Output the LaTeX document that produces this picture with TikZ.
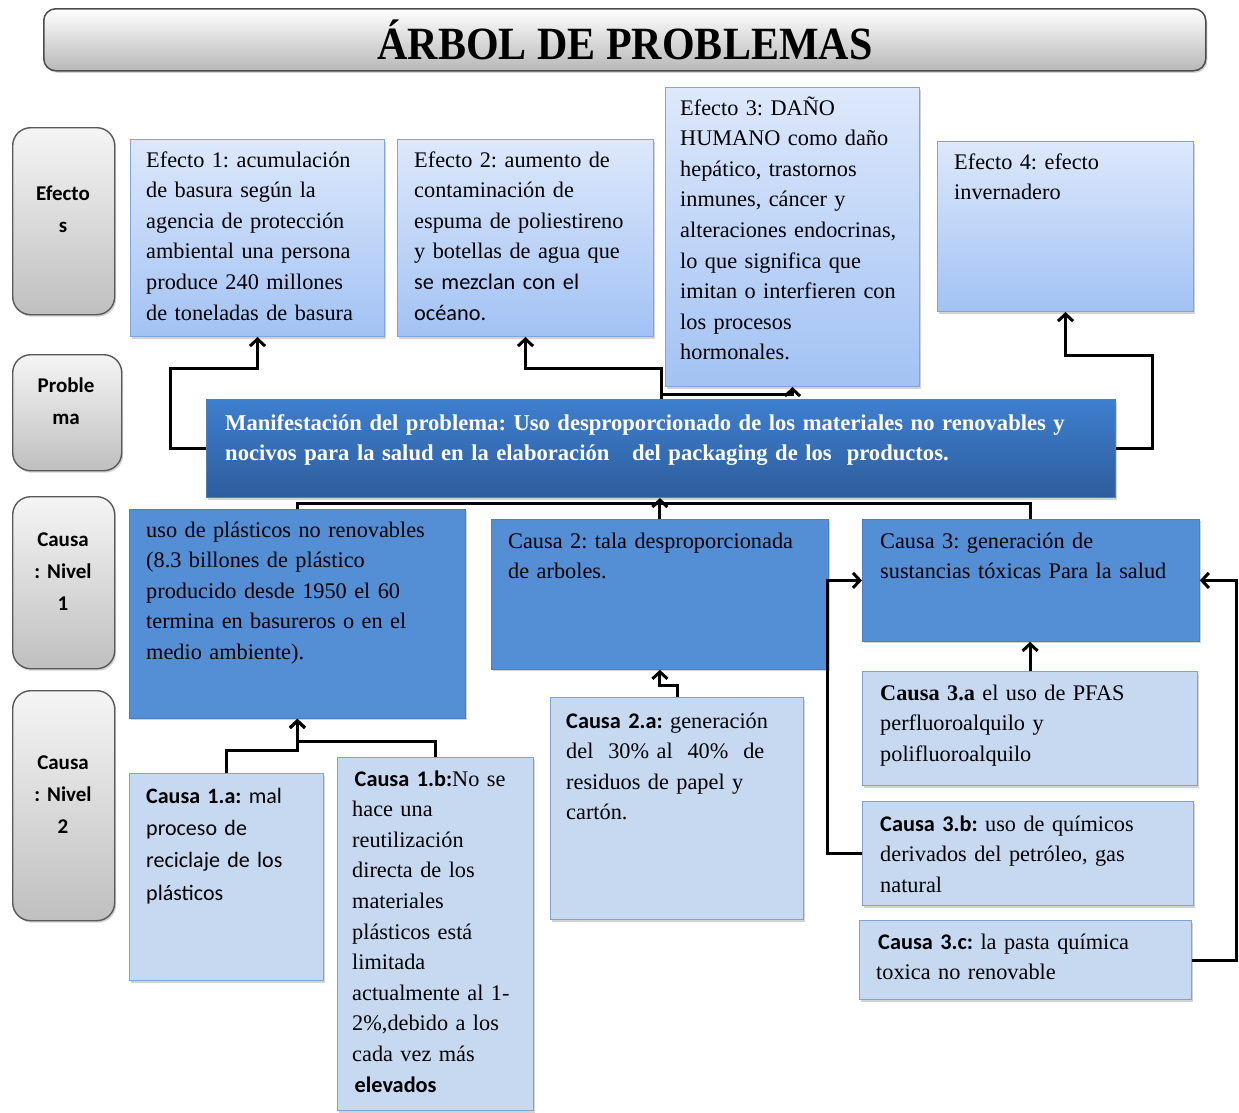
\documentclass[tikz,border=0pt]{standalone}
\usepackage{fontspec}
\setmainfont{Liberation Serif}
\newfontfamily\crl{Carlito}
\usetikzlibrary{arrows.meta,shadows}

\definecolor{effTop}{HTML}{DDE8FB}
\definecolor{effBot}{HTML}{A2C2F4}
\definecolor{effLine}{HTML}{7FA6DA}
\definecolor{probTop}{HTML}{3E7FCF}
\definecolor{probBot}{HTML}{2E5D9C}
\definecolor{causeFill}{HTML}{548ED5}
\definecolor{causeLine}{HTML}{4A7FC0}
\definecolor{subFill}{HTML}{C6D9F1}
\definecolor{subLine}{HTML}{7FA3D3}

\begin{document}
\frenchspacing
\begin{tikzpicture}[x=1pt,y=-1pt,
  shade/.style={drop shadow={shadow xshift=1.5pt,shadow yshift=-2pt,opacity=0.35}},
  titlebox/.style={draw=black!70,line width=1.5pt,rounded corners=12pt,
    top color=white,bottom color=black!28,shade,anchor=north west,inner sep=0pt},
  sidebox/.style={draw=black!65,line width=1.4pt,rounded corners=18pt,
    top color=black!4,bottom color=black!25,shade,anchor=north west,inner sep=0pt},
  effbox/.style={draw=effLine,line width=1pt,top color=effTop,bottom color=effBot,
    shade,anchor=north west,inner sep=0pt},
  probbox/.style={draw=probBot!80!white,line width=1pt,top color=probTop,bottom color=probBot,
    shade,anchor=north west,inner sep=0pt},
  causebox/.style={draw=causeLine,line width=0.8pt,fill=causeFill,
    shade,anchor=north west,inner sep=0pt},
  subbox/.style={draw=subLine,line width=1.2pt,fill=subFill,
    shade,anchor=north west,inner sep=0pt},
  txt/.style={anchor=base west,inner sep=0pt,align=left,text width=#1,
    font=\fontsize{22.3}{30.6}\selectfont},
  txt/.default=330pt,
  sidetxt/.style={anchor=base,inner sep=0pt,align=center,text width=100pt,
    font=\crl\bfseries\fontsize{21}{32}\selectfont},
  wire/.style={line width=3pt,line join=miter},
  conn/.style={wire,-{Straight Barb[length=7pt,width=15pt]}}
]
\useasboundingbox (0,0) rectangle (1239,1112);

% title bar
\node[titlebox,minimum width=1162pt,minimum height=62pt] (title) at (43,8) {};
\node[anchor=base,inner sep=0pt,font=\bfseries\fontsize{42}{42}\selectfont]
  (titlet) at (625,59) {\scalebox{1}[1.1]{ÁRBOL DE PROBLEMAS}};

% row labels
\node[sidebox,minimum width=102pt,minimum height=187pt] (sEf) at (12,127) {};
\node[sidetxt] (sEft) at (63,200) {Efecto\\s};
\node[sidebox,minimum width=109pt,minimum height=116pt] (sPr) at (12,354) {};
\node[sidetxt] (sPrt) at (66,392) {Proble\\ma};
\node[sidebox,minimum width=102pt,minimum height=172pt] (sC1) at (12,496) {};
\node[sidetxt] (sC1t) at (63,546) {Causa\\: Nivel\\1};
\node[sidebox,minimum width=102pt,minimum height=230pt] (sC2) at (12,690) {};
\node[sidetxt] (sC2t) at (63,769) {Causa\\: Nivel\\2};

% effects
\node[effbox,minimum width=254pt,minimum height=197pt] (e1) at (130,139) {};
\node[txt] (e1t) at (146,167) {Efecto 1: acumulación\\de basura según la\\agencia de protección\\ambiental una persona\\produce 240 millones\\de toneladas de basura};
\node[effbox,minimum width=256pt,minimum height=197pt] (e2) at (397,139) {};
\node[txt] (e2t) at (414,167) {Efecto 2: aumento de\\contaminación de\\espuma de poliestireno\\y botellas de agua que\\{\crl se mezclan con el}\\{\crl océano.}};
\node[effbox,minimum width=254pt,minimum height=299pt] (e3) at (665,87) {};
\node[txt] (e3t) at (680,115) {Efecto 3: DAÑO\\HUMANO como daño\\hepático, trastornos\\inmunes, cáncer y\\alteraciones endocrinas,\\lo que significa que\\imitan o interfieren con\\los procesos\\hormonales.};
\node[effbox,minimum width=256pt,minimum height=170pt] (e4) at (937,141) {};
\node[txt] (e4t) at (954,169) {Efecto 4: efecto\\invernadero};

% problem
\node[probbox,minimum width=909pt,minimum height=98pt] (prob) at (206,399) {};
\node[txt=880pt,text=white,font=\bfseries\fontsize{22.6}{30.6}\selectfont] (probt) at (225,430)
  {Manifestación del problema: Uso desproporcionado de los materiales no renovables y\\nocivos para la salud en la elaboración\ \ \ del packaging de los\ \ productos.};

% level 1 causes
\node[causebox,minimum width=336pt,minimum height=209pt] (c1) at (129,509) {};
\node[txt] (c1t) at (146,537) {uso de plásticos no renovables\\(8.3 billones de plástico\\producido desde 1950 el 60\\termina en basureros o en el\\medio ambiente).};
\node[causebox,minimum width=337pt,minimum height=150pt] (c2) at (491,519) {};
\node[txt] (c2t) at (508,548) {Causa 2: tala desproporcionada\\de arboles.};
\node[causebox,minimum width=337pt,minimum height=122pt] (c3) at (862,519) {};
\node[txt] (c3t) at (880,548) {Causa 3: generación de\\sustancias tóxicas\ Para la salud};

% level 2 causes
\node[subbox,minimum width=194pt,minimum height=207pt] (c1a) at (129,773) {};
\node[txt,font=\crl\fontsize{22}{32.4}\selectfont] (c1at) at (146,803) {\textbf{Causa 1.a:} mal\\proceso de\\reciclaje de los\\plásticos};
\node[subbox,minimum width=196pt,minimum height=353pt] (c1b) at (337,757) {};
\node[txt] (c1bt) at (352,786) {\hspace*{2.5pt}{\crl\bfseries Causa 1.b:}No se\\hace una\\reutilización\\directa de los\\materiales\\plásticos está\\limitada\\actualmente al 1-\\2\%,debido a los\\cada vez más\\\hspace*{2.5pt}{\crl\bfseries elevados}};
\node[subbox,minimum width=253pt,minimum height=222pt] (c2a) at (550,697) {};
\node[txt] (c2at) at (566,728) {{\crl\bfseries Causa 2.a:} generación\\del\ \ 30\% al\ \ 40\%\ \ de\\residuos de papel y\\cartón.};
\node[subbox,minimum width=335pt,minimum height=114pt] (c3a) at (862,671) {};
\node[txt] (c3at) at (880,700) {\textbf{Causa 3.a} el uso de PFAS\\perfluoroalquilo y\\polifluoroalquilo};
\node[subbox,minimum width=331pt,minimum height=104pt] (c3b) at (862,801) {};
\node[txt] (c3bt) at (880,831) {{\crl\bfseries Causa 3.b:} uso de químicos\\derivados del petróleo, gas\\natural};
\node[subbox,minimum width=332pt,minimum height=79pt] (c3c) at (859,920) {};
\node[txt] (c3ct) at (876,949) {\hspace*{2pt}{\crl\bfseries Causa 3.c:} la pasta química\\toxica no renovable};

% problem to effects
\draw[conn] (prob.west) -| (170,368) -| (e1.south);
\coordinate (pUp) at (prob.north |- 0,368);
\coordinate (pMid) at (prob.north |- 0,394);
\draw[conn] (prob.north) -- (pUp) -| (e2.south);
\draw[conn] (pMid) -| (e3.south);
\draw[conn] (prob.east) -| (1152,355) -| (e4.south);

% level 1 causes to problem
\draw[wire] (c1.north) -- ++(0,-6) -| (c3.north);
\draw[conn] (c2.north) -- (c2.north |- prob.south);

% level 2 causes to level 1
\draw[conn] (c1a.north) |- (c1.south |- 0,750) -- (c1.south);
\draw[conn] (c1b.north) |- (c1.south |- 0,741) -- (c1.south);
\draw[conn] (c2a.north) |- (c2.south |- 0,685) -- (c2.south);
\draw[conn] (c3a.north) -- (c3a.north |- c3.south);
\draw[conn] (c3b.west) -| ([xshift=-35pt]c3.west) -- (c3.west);
\draw[conn] (c3c.east) -| ([xshift=37pt]c3.east) -- (c3.east);
\end{tikzpicture}
\end{document}
